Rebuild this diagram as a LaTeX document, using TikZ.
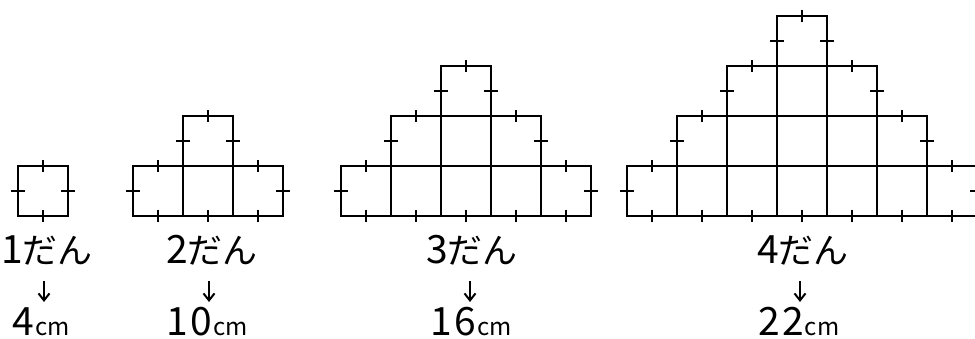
\documentclass[tikz,border=0pt]{standalone}
\usepackage{fontspec}
\newfontfamily\jpfont{Noto Sans CJK JP}
\usetikzlibrary{arrows.meta}
\tikzset{
  gridline/.style={line width=2pt, line join=miter},
  tickline/.style={line width=1.6pt},
  lbl/.style={font=\jpfont\fontsize{35}{35}\selectfont, anchor=base, inner sep=0pt},
  downarr/.style={line width=2pt, -{Straight Barb[length=7pt,width=11pt,line width=2pt]}},
}
\newcommand\cmunit{{\fontsize{24}{24}\selectfont\kern1pt cm}}
\newcommand\dgt[1]{{\fontsize{39}{39}\selectfont #1}}
\begin{document}
\begin{tikzpicture}[x=1pt,y=-1pt]
\useasboundingbox (0,0) rectangle (975,338);
\foreach \n/\xo in {1/18, 2/133, 3/341, 4/627} {
  \pgfmathtruncatemacro\nlast{2*\n-2}
  \pgfmathtruncatemacro\ntop{\n-1}
  \foreach \j in {0,...,\ntop} {
    \pgfmathtruncatemacro\lo{\j}
    \pgfmathtruncatemacro\hi{\nlast-\j}
    \foreach \i in {\lo,...,\hi} {
      \draw[gridline] (\xo+50*\i, 216-50*\j) rectangle ++(50,-50);
    }
    % side ticks
    \draw[tickline] (\xo+50*\lo-7, 191-50*\j) -- ++(14,0);
    \draw[tickline] (\xo+50*\hi+43, 191-50*\j) -- ++(14,0);
    % top ticks
    \ifnum\j=\ntop
      \draw[tickline] (\xo+50*\lo+25, 160-50*\j) -- ++(0,12);
    \else
      \draw[tickline] (\xo+50*\lo+25, 160-50*\j) -- ++(0,12);
      \draw[tickline] (\xo+50*\hi+25, 160-50*\j) -- ++(0,12);
    \fi
  }
  % bottom ticks
  \foreach \i in {0,...,\nlast} {
    \draw[tickline] (\xo+50*\i+25, 210) -- ++(0,12);
  }
}
% labels
\node[lbl] (d1) at (47,263) {\dgt{1}だん};
\node[lbl] (d2) at (212,263) {\dgt{2}だん};
\node[lbl] (d3) at (472,263) {\dgt{3}だん};
\node[lbl] (d4) at (803,263) {\dgt{4}だん};
\node[lbl] (c1) at (41,335) {\dgt{4}\cmunit};
\node[lbl] (c2) at (207,335) {\dgt{1\kern3pt 0}\cmunit};
\node[lbl] (c3) at (471,335) {\dgt{1\kern3pt 6}\cmunit};
\node[lbl] (c4) at (799,335) {\dgt{2\kern2pt 2}\cmunit};
% arrows
\coordinate (a1) at (44,281);  \coordinate (b1) at (44,302);
\coordinate (a2) at (209,281); \coordinate (b2) at (209,302);
\coordinate (a3) at (470,281); \coordinate (b3) at (470,302);
\coordinate (a4) at (800,281); \coordinate (b4) at (800,302);
\foreach \k in {1,2,3,4} { \draw[downarr] (a\k) -- (b\k); }
\end{tikzpicture}
\end{document}
